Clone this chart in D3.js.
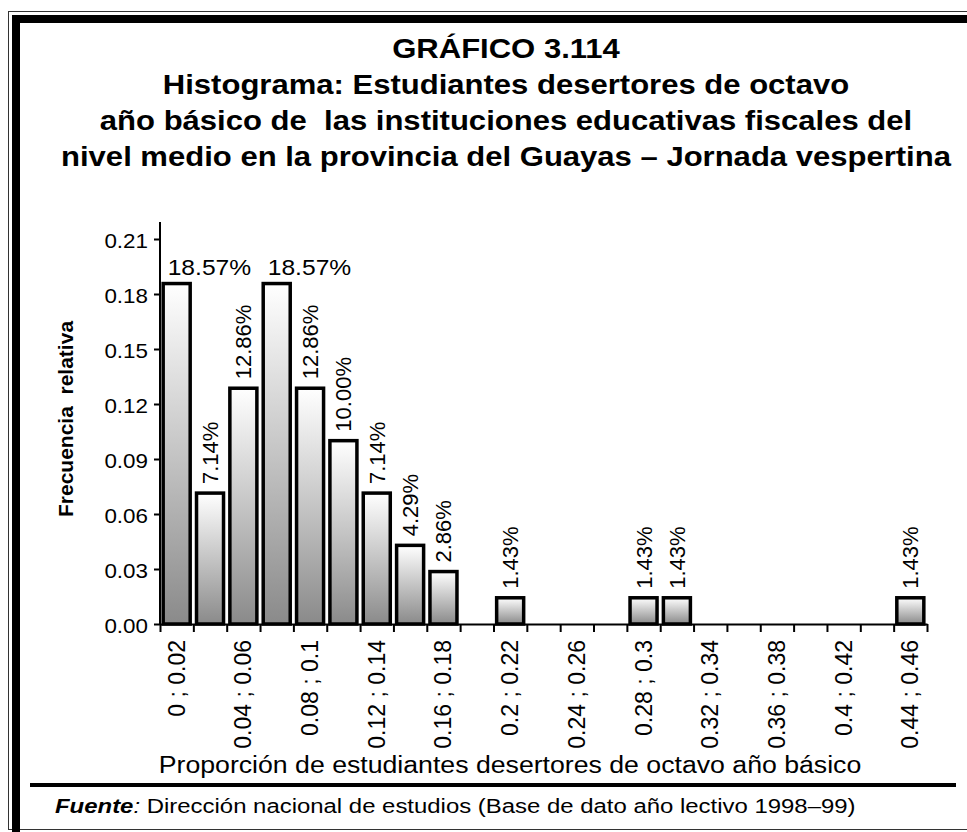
<!DOCTYPE html>
<html>
<head>
<meta charset="utf-8">
<script src="https://cdn.jsdelivr.net/npm/d3@7"></script>
<style>
  html, body { margin: 0; padding: 0; background: #fff; }
  svg { display: block; font-family: "Liberation Sans", Arial, sans-serif; }
</style>
</head>
<body>
<div id="chartContainer"></div>
<script>
// Bins of the histogram (width 0.02)
const bins = [
    "0 ; 0.02", "0.02 ; 0.04", "0.04 ; 0.06", "0.06 ; 0.08", "0.08 ; 0.1",
    "0.1 ; 0.12", "0.12 ; 0.14", "0.14 ; 0.16", "0.16 ; 0.18", "0.18 ; 0.2",
    "0.2 ; 0.22", "0.22 ; 0.24", "0.24 ; 0.26", "0.26 ; 0.28", "0.28 ; 0.3",
    "0.3 ; 0.32", "0.32 ; 0.34", "0.34 ; 0.36", "0.36 ; 0.38", "0.38 ; 0.4",
    "0.4 ; 0.42", "0.42 ; 0.44", "0.44 ; 0.46"
];
const freq = [
    0.1857, 0.0714, 0.1286, 0.1857, 0.1286, 0.1000, 0.0714, 0.0429, 0.0286, 0,
    0.0143, 0, 0, 0, 0.0143, 0.0143, 0, 0, 0, 0, 0, 0, 0.0143
];
const binEdges = d3.range(0, 24).map(i => i * 0.02);
const yTicks = [0, 0.03, 0.06, 0.09, 0.12, 0.15, 0.18, 0.21];
// Every second bin gets a label on the x axis
const shownBins = bins.filter((d, i) => i % 2 === 0);

const titleLines = [
    "GRÁFICO 3.114",
    "Histograma: Estudiantes desertores de octavo",
    "año básico de  las instituciones educativas fiscales del",
    "nivel medio en la provincia del Guayas – Jornada vespertina"
];

function createChart() {
    const width = 967;
    const height = 832;
    const plotLeft = 160;
    const plotRight = 927;
    const plotBottom = 624;
    const plotTop = 239;
    // the original picture is a bit stretched sideways
    const sx = 1.12;

    const svg = d3.create("svg")
        .attr("viewBox", [0, 0, width, height])
        .attr("width", width)
        .attr("height", height);

    // Gradient used by every bar (white on top, grey at the bottom)
    const grad = svg.append("defs").append("linearGradient")
        .attr("id", "barGrad")
        .attr("x1", 0).attr("y1", 0).attr("x2", 0).attr("y2", 1);
    grad.append("stop").attr("offset", "0%").attr("stop-color", "#ffffff");
    grad.append("stop").attr("offset", "100%").attr("stop-color", "#8a8a8a");

    // Page frame
    svg.append("rect")
        .attr("x", 8.5).attr("y", 11.5)
        .attr("width", 980).attr("height", 818)
        .attr("fill", "none").attr("stroke", "#333").attr("stroke-width", 1);
    svg.append("rect")
        .attr("x", 16).attr("y", 19)
        .attr("width", 980).attr("height", 840)
        .attr("fill", "none").attr("stroke", "#000").attr("stroke-width", 8);

    // Title
    svg.append("g")
        .attr("transform", `translate(506,0) scale(1.15,1)`)
        .append("text")
        .attr("text-anchor", "middle")
        .attr("font-weight", "bold")
        .attr("font-size", 27)
        .attr("xml:space", "preserve")
        .style("white-space", "pre")
        .selectAll("tspan")
        .data(titleLines)
        .join("tspan")
        .attr("x", 0)
        .attr("y", (d, i) => 58 + i * 36)
        .text(d => d);

    // Scales
    const x = d3.scaleBand()
        .domain(bins)
        .range([plotLeft, plotRight])
        .paddingInner(0.19)
        .paddingOuter(0.095);

    const xEdge = d3.scaleLinear()
        .domain([0, 0.46])
        .range([plotLeft, plotRight]);

    const y = d3.scaleLinear()
        .domain([0, 0.21])
        .range([plotBottom, plotTop]);

    // Bars
    svg.append("g")
        .selectAll("rect")
        .data(freq.map((v, i) => ({bin: bins[i], v})).filter(d => d.v > 0))
        .join("rect")
        .attr("x", d => x(d.bin))
        .attr("y", d => y(d.v))
        .attr("width", x.bandwidth())
        .attr("height", d => y(0) - y(d.v))
        .attr("fill", "url(#barGrad)")
        .attr("stroke", "#000")
        .attr("stroke-width", 3.5);

    // Value labels
    const pct = d3.format(".2%");
    const labels = svg.append("g").attr("font-size", 22).attr("fill", "#000");
    freq.forEach((v, i) => {
        if (v <= 0) return;
        const cx = x(bins[i]) + x.bandwidth() / 2;
        if (v > 0.18) {
            labels.append("text")
                .attr("transform", `translate(${cx - 9},${y(v) - 9}) scale(${sx},1)`)
                .text(pct(v));
        } else {
            labels.append("text")
                .attr("transform", `translate(${cx + 8},${y(v) - 9}) rotate(-90)`)
                .text(pct(v));
        }
    });

    // Y axis
    const yAxis = svg.append("g")
        .attr("transform", `translate(${plotLeft},0)`)
        .call(d3.axisLeft(y).tickValues(yTicks).tickFormat(d3.format(".2f")).tickSize(6).tickSizeOuter(0))
        .call(g => g.select(".domain").remove());
    yAxis.selectAll("line").attr("stroke", "#000").attr("stroke-width", 2);
    yAxis.selectAll("text")
        .attr("font-size", 20)
        .attr("font-family", "Liberation Sans, Arial, sans-serif")
        .attr("fill", "#000")
        .attr("x", -12 / sx)
        .attr("dy", "0.4em")
        .attr("transform", `scale(${sx},1)`);
    svg.append("line")
        .attr("x1", plotLeft).attr("x2", plotLeft)
        .attr("y1", y(0)).attr("y2", y(0.21) - 17)
        .attr("stroke", "#000").attr("stroke-width", 2);

    // X axis (ticks at the bin edges)
    const xAxis = svg.append("g")
        .attr("transform", `translate(0,${plotBottom})`)
        .call(d3.axisBottom(xEdge).tickValues(binEdges).tickFormat("").tickSize(8).tickSizeOuter(0));
    xAxis.select(".domain").attr("stroke", "#000").attr("stroke-width", 2);
    xAxis.selectAll("line").attr("stroke", "#000").attr("stroke-width", 2);

    svg.append("g")
        .attr("font-size", 23)
        .attr("text-anchor", "end")
        .selectAll("text")
        .data(shownBins)
        .join("text")
        .attr("transform", d => `translate(${x(d) + x.bandwidth() / 2 + 8},640) rotate(-90)`)
        .text(d => d);

    // Axis titles
    svg.append("text")
        .attr("transform", `translate(510,773) scale(1.16,1)`)
        .attr("text-anchor", "middle")
        .attr("font-size", 23)
        .text("Proporción de estudiantes desertores de octavo año básico");

    svg.append("text")
        .attr("transform", "translate(73,419) rotate(-90)")
        .attr("text-anchor", "middle")
        .attr("font-weight", "bold")
        .attr("font-size", 21)
        .attr("xml:space", "preserve")
        .style("white-space", "pre")
        .text("Frecuencia  relativa");

    // Separator and source
    svg.append("line")
        .attr("x1", 30).attr("x2", 956)
        .attr("y1", 785).attr("y2", 785)
        .attr("stroke", "#000").attr("stroke-width", 4);

    const src = svg.append("text")
        .attr("transform", `translate(55,813) scale(1.14,1)`)
        .attr("font-size", 21);
    src.append("tspan").attr("font-weight", "bold").attr("font-style", "italic").text("Fuente");
    src.append("tspan").attr("font-style", "italic").text(":");
    src.append("tspan").text(" Dirección nacional de estudios (Base de dato año lectivo 1998–99)");

    return svg.node();
}

document.getElementById("chartContainer").appendChild(createChart());
</script>
</body>
</html>
